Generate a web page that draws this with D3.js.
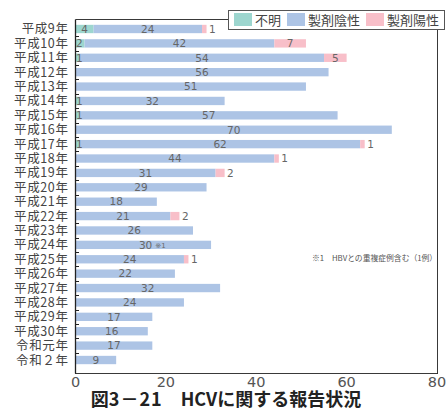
<!DOCTYPE html>
<html>
<head>
<meta charset="utf-8">
<script src="https://cdn.jsdelivr.net/npm/d3@7"></script>
<style>
  body { margin: 0; background: #fff; }
  svg { display: block; font-family: "Noto Sans CJK JP", "Noto Sans", sans-serif; }
  .num { font-family: "DejaVu Sans", "Noto Sans", sans-serif; }
</style>
</head>
<body>
<svg id="chart" width="448" height="412"></svg>
<script>
// categories (top to bottom)
const years = ["平成9年","平成10年","平成11年","平成12年","平成13年","平成14年","平成15年","平成16年",
  "平成17年","平成18年","平成19年","平成20年","平成21年","平成22年","平成23年","平成24年",
  "平成25年","平成26年","平成27年","平成28年","平成29年","平成30年","令和元年","令和２年"]
// series
const unknown  = [4,2,1,0,0,1,1,0,1,0,0,0,0,0,0,0,0,0,0,0,0,0,0,0]
const negative = [24,42,54,56,51,32,57,70,62,44,31,29,18,21,26,30,24,22,32,24,17,16,17,9]
const positive = [1,7,5,0,0,0,0,0,1,1,2,0,0,2,0,0,1,0,0,0,0,0,0,0]
const seriesNames = ["不明","製剤陰性","製剤陽性"]
const colors = ["#9dd6cf","#adc4e5","#f8bfc9"]
const xTicks = [0,20,40,60,80]
const notes = {"平成24年":"※1"}

const svg = d3.select("#chart")
const x = d3.scaleLinear().domain([0,80]).range([75.5,437])
const y = d3.scaleBand().domain(years).range([21.8,367.2]).paddingInner(0.42).paddingOuter(0.21)
const band = d3.scaleBand().domain(years).range([21.8,367.2])

const rows = years.map((yr,i) => ({year:yr, vals:[unknown[i],negative[i],positive[i]]}))
const stack = d3.stack().keys([0,1,2]).value((d,k) => d.vals[k])(rows)

// bars
stack.forEach((layer,k) => {
  svg.append("g").selectAll("rect").data(layer).join("rect")
    .attr("x", d => x(d[0]))
    .attr("y", d => y(d.data.year))
    .attr("width", d => x(d[1]) - x(d[0]))
    .attr("height", y.bandwidth())
    .attr("fill", colors[k])
})

// value labels
const lab = svg.append("g").attr("class", "num").attr("font-size", 10.5).attr("fill", "#666")
stack.forEach((layer,k) => {
  layer.forEach(d => {
    const v = d[1]-d[0]
    if (!v) return
    const cy = y(d.data.year) + y.bandwidth()/2 + 3.8
    const w = x(d[1]) - x(d[0])
    let tx, anchor
    if (k === 2 && v < 5) { tx = x(d[1]) + 2.5; anchor = "start" }
    else if (w < 12) { tx = x(d[0]) + 0.5; anchor = "start" }
    else { tx = (x(d[0]) + x(d[1]))/2; anchor = "middle" }
    const t = lab.append("text").attr("x", tx).attr("y", cy).attr("text-anchor", anchor).text(v)
    if (k === 1 && notes[d.data.year]) {
      t.attr("x", tx + 9)
      t.append("tspan").attr("font-size", 7).attr("dx", 3).attr("dy", -0.5).text(notes[d.data.year])
    }
  })
})

// frame
const fr = svg.append("g").attr("stroke", "#222").attr("fill", "none").attr("stroke-width", 1)
fr.append("path").attr("d", `M75.5,19.5H228.5M437.5,29V373.5M75,373.5H438`).attr("stroke-width", 0.9)
fr.append("line").attr("x1", 75.5).attr("x2", 75.5).attr("y1", 19.5).attr("y2", 373.5).attr("stroke-width", 1.3)

// left boundary ticks
svg.append("g").selectAll("line").data(years.slice(1)).join("line")
  .attr("x1", 75.5).attr("x2", 79).attr("y1", d => Math.round(band(d)) + 0.5).attr("y2", d => Math.round(band(d)) + 0.5)
  .attr("stroke", "#222")

// y labels
svg.append("g").attr("font-size", 12.5).attr("fill", "#444").attr("text-anchor", "end")
  .attr("letter-spacing", 0.6)
  .selectAll("text").data(years).join("text")
  .attr("x", 68.5).attr("y", d => y(d) + y.bandwidth()/2 + 4.5).text(d => d)

// x tick labels
svg.append("g").attr("class", "num").attr("font-size", 14.5).attr("fill", "#555").attr("text-anchor", "middle")
  .selectAll("text").data(xTicks).join("text")
  .attr("x", d => x(d)).attr("y", 387).text(d => d)

// legend
const lg = svg.append("g")
lg.append("rect").attr("x", 228.5).attr("y", 10.5).attr("width", 216).attr("height", 19)
  .attr("fill", "#fff").attr("stroke", "#555")
const lx = [234, 287, 366]
seriesNames.forEach((n,i) => {
  lg.append("rect").attr("x", lx[i]).attr("y", 13).attr("width", 18).attr("height", 13).attr("fill", colors[i])
  lg.append("text").attr("x", lx[i] + 21).attr("y", 24.5).attr("font-size", 13).attr("fill", "#444").text(n)
})

// footnote
svg.append("text").attr("x", 312).attr("y", 261).attr("font-size", 7.8).attr("fill", "#555")
  .text("※1　HBVとの重複症例含む（1例）")

// title
const title = svg.append("text").attr("x", 226).attr("y", 406).attr("text-anchor", "middle")
  .attr("font-size", 18).attr("font-weight", "bold").attr("fill", "#222")
title.append("tspan").text("図")
title.append("tspan").attr("letter-spacing", 1).text("3－21")
title.append("tspan").text("　HCVに関する報告状況")
</script>
</body>
</html>
